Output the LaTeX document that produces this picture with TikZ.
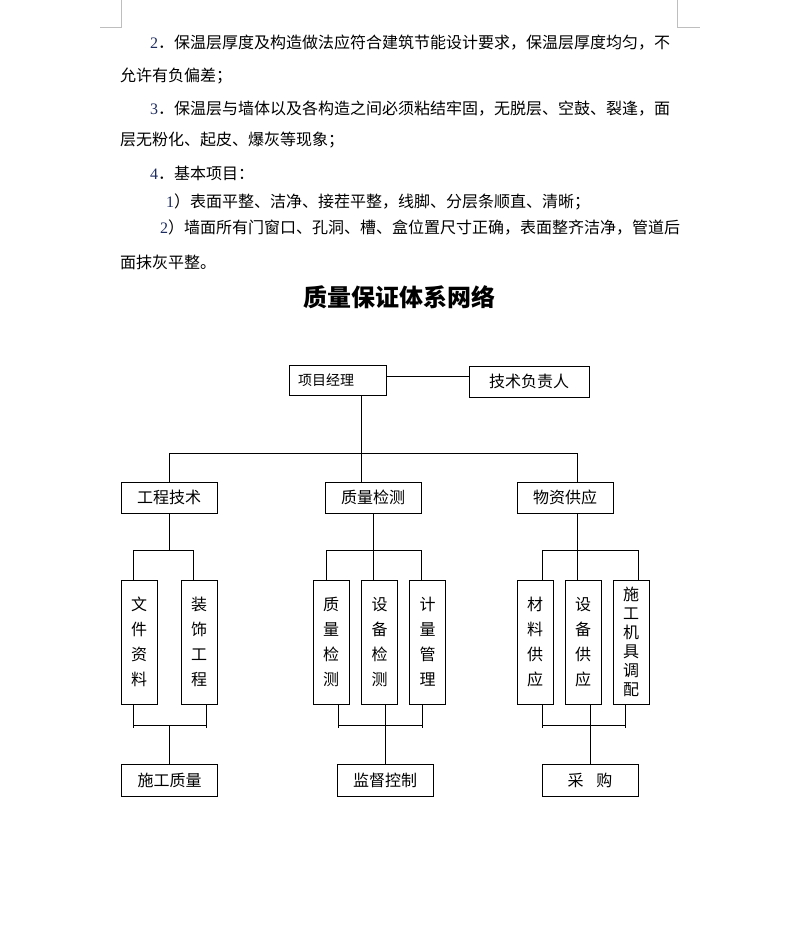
\documentclass[tikz,border=0pt]{standalone}
\usepackage{fontspec}
\setmainfont{Liberation Serif}
\newfontfamily\cjk{Noto Sans CJK SC}
\usetikzlibrary{positioning}
\definecolor{numblue}{RGB}{30,45,95}
\definecolor{cropgray}{RGB}{190,190,190}
\newcommand{\xh}[1]{{\rmfamily\color{numblue}#1}}
\tikzset{
  body line/.style={anchor=west,inner sep=0pt,font=\cjk\fontsize{16}{18}\selectfont},
  org box/.style={draw=black,line width=0.8pt,inner sep=0pt,minimum width=96pt,
    minimum height=31pt,font=\cjk\fontsize{16}{18}\selectfont},
  org leaf/.style={draw=black,line width=0.8pt,inner sep=0pt,minimum width=36pt,
    minimum height=124pt,align=center,font=\cjk\fontsize{16}{25}\selectfont},
  org leaf tight/.style={org leaf,font=\cjk\fontsize{16}{19}\selectfont},
  org edge/.style={line width=0.8pt},
  crop mark/.style={cropgray,line width=0.8pt}
}
\begin{document}
\begin{tikzpicture}[x=1pt,y=-1pt]
  \useasboundingbox (0,0) rectangle (796,935);
  % page corner marks
  \coordinate (corner left) at (121,27);
  \coordinate (corner right) at (677,27);
  \draw[crop mark] (121,0) -- (corner left) -- (100,27);
  \draw[crop mark] (677,0) -- (corner right) -- (700,27);
  % body text
  \node[body line] (line1) at (150,43) {\xh{2}．保温层厚度及构造做法应符合建筑节能设计要求，保温层厚度均匀，不};
  \node[body line] (line2) at (120,76) {允许有负偏差；};
  \node[body line] (line3) at (150,109) {\xh{3}．保温层与墙体以及各构造之间必须粘结牢固，无脱层、空鼓、裂逢，面};
  \node[body line] (line4) at (120,140) {层无粉化、起皮、爆灰等现象；};
  \node[body line] (line5) at (150,173) {\xh{4}．基本项目：};
  \node[body line] (line6) at (166,202) {\xh{1}）表面平整、洁净、接茬平整，线脚、分层条顺直、清晰；};
  \node[body line] (line7) at (160,228) {\xh{2}）墙面所有门窗口、孔洞、槽、盒位置尺寸正确，表面整齐洁净，管道后};
  \node[body line] (line8) at (120,262) {面抹灰平整。};
  \node[font=\cjk\bfseries\fontsize{24}{28}\selectfont] (title) at (399,297) {质量保证体系网络};
  % top level
  \node[org box,minimum width=97pt,minimum height=30pt,text width=79pt,inner xsep=9pt,
    align=left,font=\cjk\fontsize{14}{16}\selectfont] (pm) at (337.5,380) {项目经理};
  \node[org box,minimum width=120pt] (tech) at (529,381.5) {技术负责人};
  % departments
  \node[org box] (eng) at (169,497.5) {工程技术};
  \node[org box] (qc) at (373,497.5) {质量检测};
  \node[org box] (supply) at (565,497.5) {物资供应};
  % sections
  \node[org leaf] (doc) at (139,642) {文\\件\\资\\料};
  \node[org leaf] (deco) at (199,642) {装\\饰\\工\\程};
  \node[org leaf] (qcheck) at (331,642) {质\\量\\检\\测};
  \node[org leaf] (eqcheck) at (379.5,642) {设\\备\\检\\测};
  \node[org leaf] (meter) at (427.5,642) {计\\量\\管\\理};
  \node[org leaf] (mat) at (535,642) {材\\料\\供\\应};
  \node[org leaf] (eqsup) at (583,642) {设\\备\\供\\应};
  \node[org leaf tight] (mach) at (631,642) {施\\工\\机\\具\\调\\配};
  % results
  \node[org box,minimum height=32pt] (build) at (169.5,780) {施工质量};
  \node[org box,minimum height=32pt] (superv) at (385,780) {监督控制};
  \node[org box,minimum height=32pt] (purch) at (590,780) {采\hspace{13pt}购};
  % connectors, top
  \draw[org edge] ([yshift=4pt]pm.east) -- ([yshift=4pt]pm.east -| tech.west);
  \draw[org edge] ([xshift=23.5pt]pm.south) -- ([xshift=-12pt]qc.north);
  \draw[org edge] (eng.north) -- ++(0,-28.5) -| ([xshift=12pt]supply.north);
  % connectors, departments to sections
  \draw[org edge] (eng.south) -- ++(0,38);
  \draw[org edge] ([xshift=-6pt]doc.north) -- ++(0,-29) -| ([xshift=-6pt]deco.north);
  \draw[org edge] (qc.south) -- ([xshift=-6.5pt]eqcheck.north);
  \draw[org edge] ([xshift=-5pt]qcheck.north) -- ++(0,-29) -| ([xshift=-6.5pt]meter.north);
  \draw[org edge] ([xshift=12pt]supply.south) -- ([xshift=-6pt]eqsup.north);
  \draw[org edge] ([xshift=7pt]mat.north) -- ++(0,-29) -| ([xshift=7pt]mach.north);
  % connectors, sections to results
  \draw[org edge] ([xshift=-6pt]doc.south) -- ++(0,24) ([xshift=7pt]deco.south) -- ++(0,24)
    ([xshift=-6pt,yshift=-21pt]doc.south) -- ([xshift=7pt,yshift=-21pt]deco.south);
  \draw[org edge] (build.north) -- ++(0,-39);
  \draw[org edge] ([xshift=7pt]qcheck.south) -- ++(0,24) ([xshift=-5.5pt]meter.south) -- ++(0,24)
    ([xshift=7pt,yshift=-21pt]qcheck.south) -- ([xshift=-5.5pt,yshift=-21pt]meter.south);
  \draw[org edge] ([xshift=5.5pt]eqcheck.south) -- (superv.north);
  \draw[org edge] ([xshift=7pt]mat.south) -- ++(0,24) ([xshift=-6pt]mach.south) -- ++(0,24)
    ([xshift=7pt,yshift=-21pt]mat.south) -- ([xshift=-6pt,yshift=-21pt]mach.south);
  \draw[org edge] ([xshift=7pt]eqsup.south) -- (purch.north);
\end{tikzpicture}
\end{document}
